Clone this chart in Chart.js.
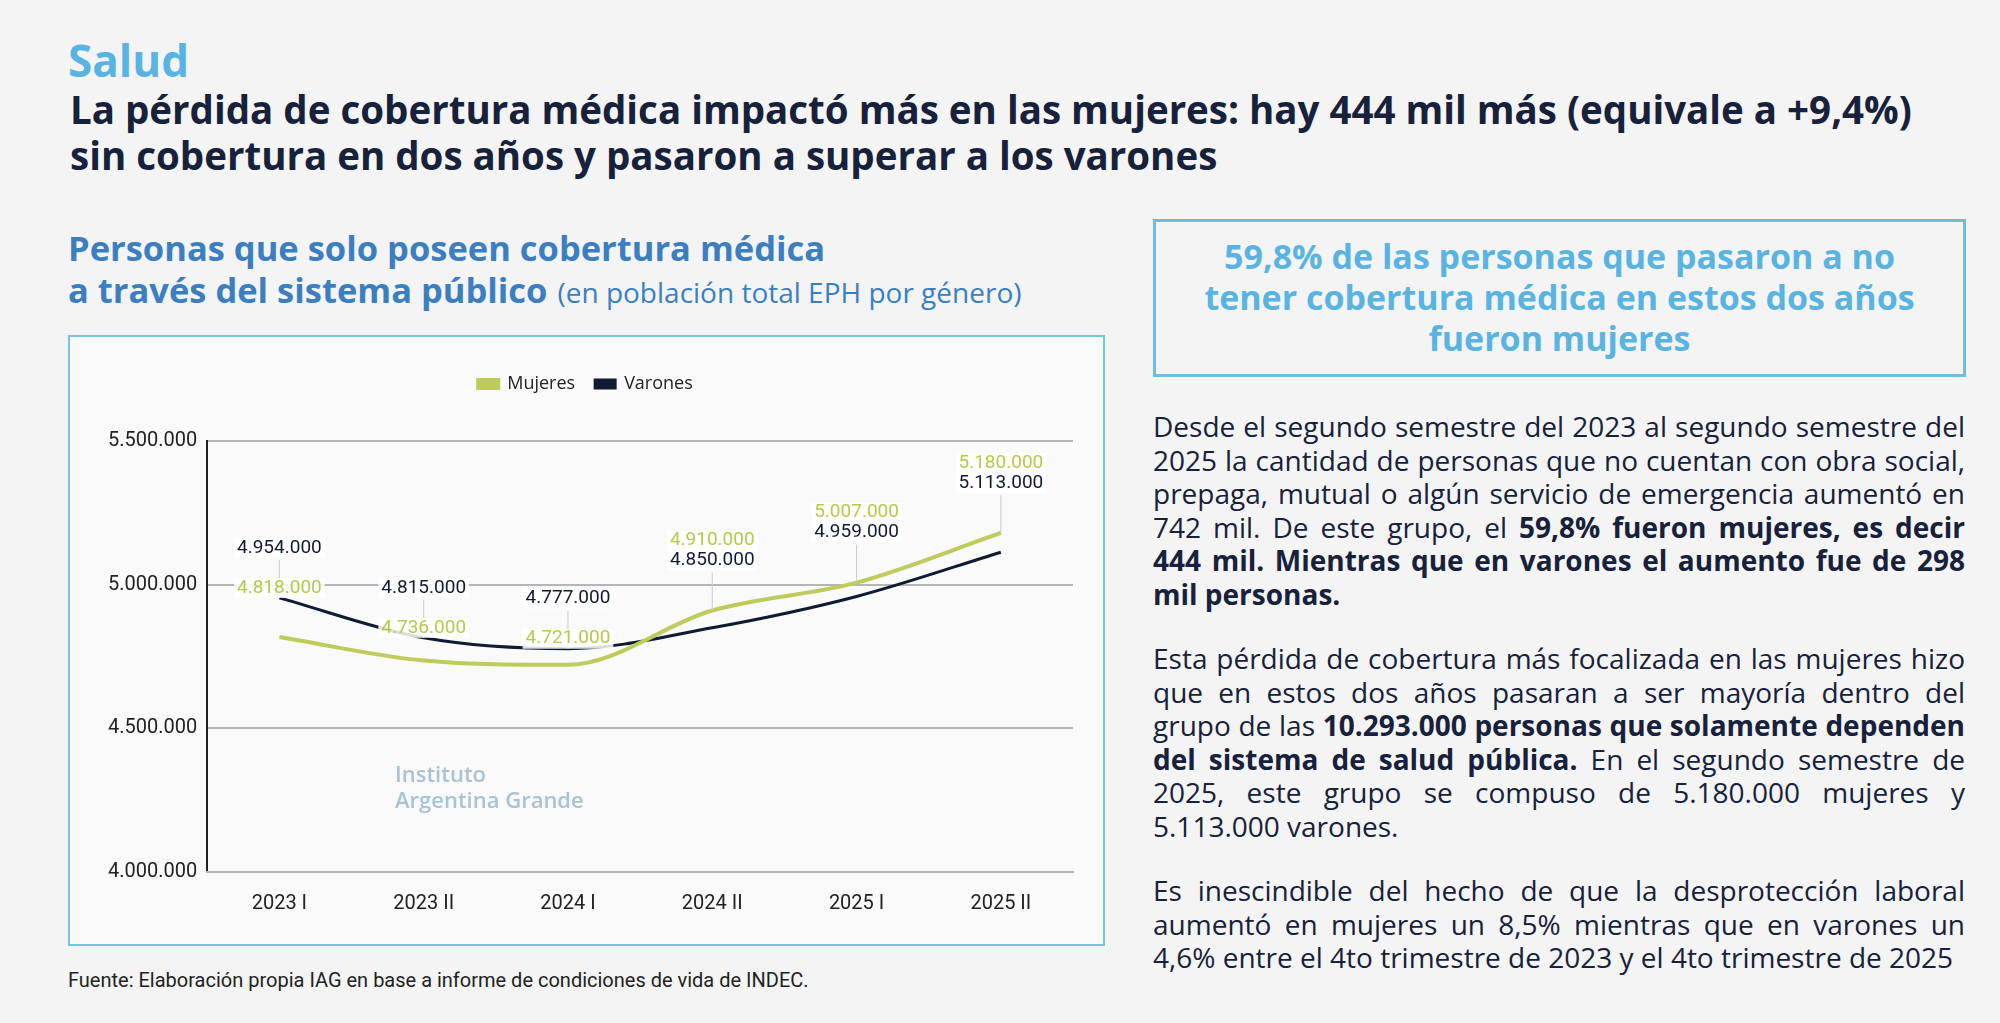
<!DOCTYPE html>
<html>
<head>
<meta charset="utf-8">
<script src="https://cdn.jsdelivr.net/npm/chart.js@4"></script>
<style>
  body { margin: 0; width: 2000px; height: 1023px; background: #f4f4f4; font-family: 'Open Sans', sans-serif; position: relative; overflow: hidden; }
  .abs { position: absolute; }
  #salud { left: 68px; top: 30px; font-size: 44px; font-weight: 700; color: #5ab4e2; }
  #titulo { left: 70px; top: 86px; font-size: 38.5px; font-weight: 700; color: #17213b; line-height: 46px; }
  #sub { left: 68px; top: 227px; font-size: 34.5px; font-weight: 700; color: #3b7fc1; line-height: 42px; }
  #sub span { font-weight: 400; font-size: 28px; margin-left: 10px; }
  #box { left: 68px; top: 335px; width: 1033px; height: 607px; border: 2px solid #79c3dc; background: #fafafa; }
  #fuente { left: 68px; top: 968px; font-family: Roboto, sans-serif; font-size: 20px; color: #222; }
  #dest { left: 1153px; top: 219px; width: 813px; height: 158px; border: 3px solid #6dbde0; box-sizing: border-box; color: #5ab4e2; font-size: 34px; font-weight: 700; text-align: center; line-height: 41px; padding-top: 14px; }
  #texto { left: 1153px; top: 410px; width: 812px; font-size: 28px; line-height: 33.5px; color: #17213b; text-align: justify; }
  #texto p { margin: 0 0 31px 0; }
  #logo { left: 300px; top: 760px; color: #a9c3d4; font-size: 22px; line-height: 26px; font-weight: 600; }
</style>
</head>
<body>
<div id="salud" class="abs">Salud</div>
<div id="titulo" class="abs">La pérdida de cobertura médica impactó más en las mujeres: hay 444 mil más (equivale a +9,4%)<br>sin cobertura en dos años y pasaron a superar a los varones</div>
<div id="sub" class="abs">Personas que solo poseen cobertura médica<br>a través del sistema público<span>(en población total EPH por género)</span></div>
<div id="box" class="abs"><canvas id="chart" width="1033" height="607"></canvas></div>
<div id="logo" class="abs"><span style="margin-left:95px">Instituto</span><br><span style="margin-left:95px">Argentina Grande</span></div>
<div id="fuente" class="abs">Fuente: Elaboración propia IAG en base a informe de condiciones de vida de INDEC.</div>
<div id="dest" class="abs">59,8% de las personas que pasaron a no<br>tener cobertura médica en estos dos años<br>fueron mujeres</div>
<div id="texto" class="abs">
<p>Desde el segundo semestre del 2023 al segundo semestre del 2025 la cantidad de personas que no cuentan con obra social, prepaga, mutual o algún servicio de emergencia aumentó en 742 mil. De este grupo, el <b>59,8% fueron mujeres, es decir 444 mil. Mientras que en varones el aumento fue de 298 mil personas.</b></p>
<p>Esta pérdida de cobertura más focalizada en las mujeres hizo que en estos dos años pasaran a ser mayoría dentro del grupo de las <b>10.293.000 personas que solamente dependen del sistema de salud pública.</b> En el segundo semestre de 2025, este grupo se compuso de 5.180.000 mujeres y 5.113.000 varones.</p>
<p>Es inescindible del hecho de que la desprotección laboral aumentó en mujeres un 8,5% mientras que en varones un 4,6% entre el 4to trimestre de 2023 y el 4to trimestre de 2025</p>
</div>
<script>
const categories = ['2023 I', '2023 II', '2024 I', '2024 II', '2025 I', '2025 II'];
const mujeres = [4818000, 4736000, 4721000, 4910000, 5007000, 5180000];
const varones = [4954000, 4815000, 4777000, 4850000, 4959000, 5113000];
const yTicks = [4000000, 4500000, 5000000, 5500000];

function fmt(v) {
    return String(v).replace(/\B(?=(\d{3})+(?!\d))/g, '.');
}

// etiquetas de valores sobre cada punto
const labelsPlugin = {
    id: 'valueLabels',
    afterDatasetsDraw(chart) {
        const ctx = chart.ctx;
        ctx.save();
        ctx.font = '19px Roboto';
        ctx.textAlign = 'center';
        ctx.textBaseline = 'middle';
        const m = chart.getDatasetMeta(0).data;
        const v = chart.getDatasetMeta(1).data;
        m.forEach((pm, i) => {
            const pv = v[i];
            const top = Math.min(pm.y, pv.y);
            const yV = top - 50;
            const yM = mujeres[i] > varones[i] ? yV - 20 : yV + 40;
            ctx.strokeStyle = '#cccccc';
            ctx.lineWidth = 1;
            ctx.beginPath(); ctx.moveTo(pm.x, top); ctx.lineTo(pm.x, yV + 12); ctx.stroke();
            [[yV, fmt(varones[i]), '#111a33'], [yM, fmt(mujeres[i]), '#b5c94a']].forEach(([y, t, c]) => {
                const w = ctx.measureText(t).width + 6;
                ctx.fillStyle = 'rgba(255,255,255,0.85)';
                ctx.fillRect(pm.x - w / 2, y - 10, w, 20);
                ctx.fillStyle = c;
                ctx.fillText(t, pm.x, y);
            });
        });
        ctx.restore();
    }
};

// mas espacio bajo la leyenda
const legendGap = {
    id: 'legendGap',
    beforeInit(chart) {
        const fit = chart.legend.fit;
        chart.legend.fit = function () {
            fit.bind(chart.legend)();
            this.height += 38;
        };
    }
};

new Chart(document.getElementById('chart').getContext('2d'), {
    type: 'line',
    data: {
        labels: categories,
        datasets: [{
            label: 'Mujeres',
            data: mujeres,
            borderColor: '#bdcc5a',
            backgroundColor: '#bdcc5a',
            borderWidth: 4,
            pointRadius: 0,
            cubicInterpolationMode: 'monotone'
        }, {
            label: 'Varones',
            data: varones,
            borderColor: '#111a33',
            backgroundColor: '#111a33',
            borderWidth: 3,
            pointRadius: 0,
            cubicInterpolationMode: 'monotone'
        }]
    },
    options: {
        responsive: false,
        animation: false,
        layout: { padding: { left: 28, right: 30, top: 18, bottom: 16 } },
        plugins: {
            legend: {
                position: 'top',
                labels: {
                    boxWidth: 20,
                    boxHeight: 8,
                    padding: 20,
                    color: '#222',
                    font: { family: 'Open Sans', size: 18 }
                }
            },
            tooltip: { enabled: false }
        },
        scales: {
            y: {
                min: 4000000,
                max: 5500000,
                afterBuildTicks: axis => { axis.ticks = yTicks.map(v => ({ value: v })); },
                ticks: {
                    callback: v => fmt(v),
                    color: '#222',
                    padding: 10,
                    font: { family: 'Roboto', size: 20 }
                },
                grid: { color: '#b5b5b5', lineWidth: 2, drawTicks: false },
                border: { display: true, color: '#222', width: 2 }
            },
            x: {
                offset: true,
                ticks: { color: '#222', padding: 12, font: { family: 'Roboto', size: 20 } },
                grid: { display: false },
                border: { color: '#b5b5b5', width: 2 }
            }
        }
    },
    plugins: [labelsPlugin, legendGap]
});
</script>
</body>
</html>
